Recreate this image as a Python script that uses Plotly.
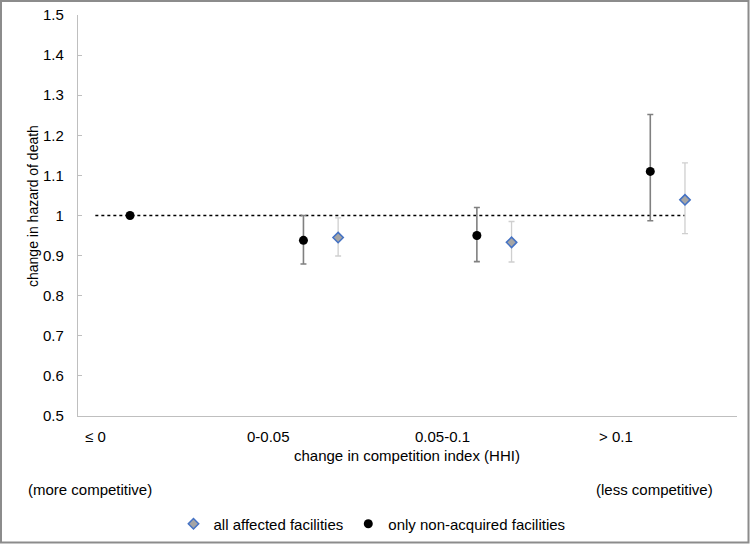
import plotly.graph_objects as go

# ---- data ----
categories = ["≤ 0", "0-0.05", "0.05-0.1", "> 0.1"]

nonacq_val = [1.00, 0.938, 0.950, 1.110]
nonacq_lo = [1.00, 0.879, 0.885, 0.987]
nonacq_hi = [1.00, 1.000, 1.020, 1.252]

all_cat_idx = [1, 2, 3]
all_val = [0.945, 0.933, 1.039]
all_lo = [0.899, 0.884, 0.955]
all_hi = [0.994, 0.985, 1.131]

ref_value = 1.0

# ---- layout geometry (pixels) ----
W, H = 750, 544
L, R, T, B = 78, 737, 15, 416
pw, ph = R - L, B - T

def px(x):
    return (x - L) / pw

def py(y):
    return (B - y) / ph

FONT = "Liberation Sans, Arial, sans-serif"

nonacq_x = [i + 0.3 for i in range(len(categories))]
all_x = [i + 0.5 for i in all_cat_idx]

fig = go.Figure()

fig.add_trace(go.Scatter(
    x=all_x, y=all_val, mode="markers", name="all affected facilities",
    marker=dict(symbol="diamond", size=8, color="#a5a5a5",
                line=dict(color="#4472c4", width=1.5)),
    error_y=dict(type="data", symmetric=False,
                 array=[h - v for h, v in zip(all_hi, all_val)],
                 arrayminus=[v - l for v, l in zip(all_val, all_lo)],
                 color="#cfcfcf", thickness=1.3, width=3),
))

fig.add_trace(go.Scatter(
    x=nonacq_x, y=nonacq_val, mode="markers", name="only non-acquired facilities",
    marker=dict(symbol="circle", size=9, color="#000000"),
    error_y=dict(type="data", symmetric=False,
                 array=[h - v for h, v in zip(nonacq_hi, nonacq_val)],
                 arrayminus=[v - l for v, l in zip(nonacq_val, nonacq_lo)],
                 color="#808080", thickness=1.6, width=3),
))

shapes = [
    dict(type="line", xref="x", yref="y", x0=0.1, x1=3.5, y0=ref_value, y1=ref_value,
         line=dict(color="#000000", width=1.5, dash="dot"), layer="below"),
    dict(type="rect", xref="paper", yref="paper",
         x0=px(1), x1=px(748.5), y0=py(1), y1=py(542.5),
         line=dict(color="#8c8c8c", width=2)),
]

annotations = []
for i, c in enumerate(categories):
    annotations.append(dict(x=i + 0.1, y=py(436), xref="x", yref="paper", text=c,
                            showarrow=False, xanchor="center", yanchor="middle",
                            font=dict(size=15, color="#000", family=FONT)))
annotations += [
    dict(x=px(407), y=py(455), xref="paper", yref="paper",
         text="change in competition index (HHI)", showarrow=False,
         xanchor="center", yanchor="middle", font=dict(size=15, color="#000", family=FONT)),
    dict(x=px(90), y=py(489), xref="paper", yref="paper",
         text="(more competitive)", showarrow=False,
         xanchor="center", yanchor="middle", font=dict(size=15, color="#000", family=FONT)),
    dict(x=px(654), y=py(489), xref="paper", yref="paper",
         text="(less competitive)", showarrow=False,
         xanchor="center", yanchor="middle", font=dict(size=15, color="#000", family=FONT)),
    dict(x=px(33), y=py(206), xref="paper", yref="paper",
         text="change in hazard of death", showarrow=False, textangle=-90,
         xanchor="center", yanchor="middle", font=dict(size=14, color="#000", family=FONT)),
]

fig.update_layout(
    width=W, height=H,
    margin=dict(l=L, r=W - R, t=T, b=H - B, pad=0, autoexpand=False),
    paper_bgcolor="white", plot_bgcolor="white",
    font=dict(family=FONT, size=15, color="#000"),
    showlegend=True,
    legend=dict(orientation="h", xref="container", yref="container",
                x=372 / W, xanchor="center", y=1 - 524 / H, yanchor="middle",
                font=dict(size=15, color="#000", family=FONT), itemwidth=30,
                bgcolor="rgba(0,0,0,0)", tracegroupgap=0),
    shapes=shapes,
    annotations=annotations,
    xaxis=dict(range=[0, 3.8], showgrid=False, zeroline=False, showticklabels=False,
               ticks="", showline=True, linecolor="#bfbfbf", linewidth=1.3),
    yaxis=dict(range=[0.5, 1.5], dtick=0.1, tickformat="~r", showgrid=False, zeroline=False,
               ticks="inside", ticklen=4, tickcolor="#bfbfbf", showline=True,
               linecolor="#bfbfbf", linewidth=1.3, ticklabelstandoff=10,
               tickfont=dict(size=15, color="#000", family=FONT)),
)

fig.write_html("out.html", config={"displayModeBar": False},
               post_script="document.body.style.margin='0';document.body.style.overflow='hidden';")
